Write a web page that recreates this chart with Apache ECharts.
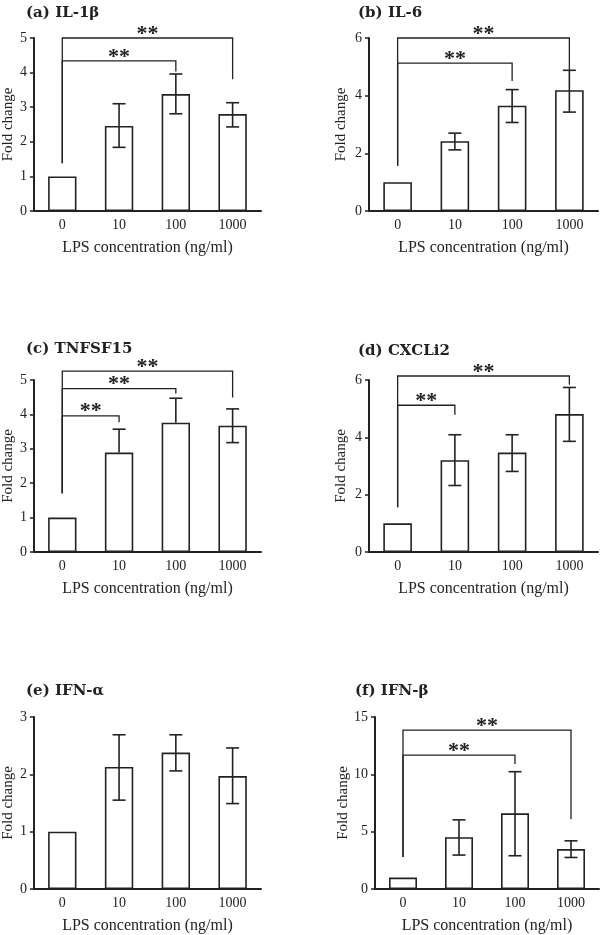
<!DOCTYPE html>
<html><head><meta charset="utf-8">
<script src="https://cdn.jsdelivr.net/npm/echarts@6/dist/echarts.min.js"></script>
<style>html,body{margin:0;padding:0;background:#fff}#c{width:600px;height:935px}</style>
</head><body><div id="c"></div>
<script>
// ---------- data ----------
const categories = ['0', '10', '100', '1000'];
const titles = ['(a) IL-1β', '(b) IL-6', '(c) TNFSF15', '(d) CXCLi2', '(e) IFN-α', '(f) IFN-β'];
const xAxisName = 'LPS concentration (ng/ml)';
const yAxisName = 'Fold change';

const meanA = [1, 2.46, 3.38, 2.80];
const lowA  = [null, 1.84, 2.81, 2.43];
const highA = [null, 3.10, 3.96, 3.13];

const meanB = [1, 2.42, 3.65, 4.19];
const lowB  = [null, 2.12, 3.07, 3.43];
const highB = [null, 2.70, 4.21, 4.88];

const meanC = [1, 2.89, 3.76, 3.67];
const lowC  = [null, null, null, 3.18];
const highC = [null, 3.57, 4.47, 4.16];

const meanD = [1, 3.20, 3.47, 4.81];
const lowD  = [null, 2.32, 2.81, 3.86];
const highD = [null, 4.09, 4.09, 5.74];

const meanE = [1, 2.13, 2.38, 1.97];
const lowE  = [null, 1.55, 2.06, 1.49];
const highE = [null, 2.69, 2.69, 2.46];

const meanF = [1, 4.52, 6.60, 3.48];
const lowF  = [null, 2.96, 2.90, 2.75];
const highF = [null, 6.03, 10.23, 4.20];

// significance brackets: [fromIndex, toIndex, bracketY, leftLegBottom, rightLegBottom]
const bracketsA = [[0, 2, 4.34, 1.38, 4.03], [0, 3, 5.0, 1.38, 3.81]];
const bracketsB = [[0, 2, 5.13, 1.57, 4.51], [0, 3, 6.0, 1.57, 4.87]];
const bracketsC = [[0, 1, 3.96, 1.71, 3.77], [0, 2, 4.75, 1.71, 4.61], [0, 3, 5.26, 1.71, 4.49]];
const bracketsD = [[0, 1, 5.12, 1.56, 4.79], [0, 3, 6.14, 1.56, 5.83]];
const bracketsE = [];
const bracketsF = [[0, 2, 11.68, 2.78, 10.9], [0, 3, 13.86, 2.78, 6.09]];

const yMax = [5, 6, 5, 6, 3, 15];
const yInterval = [1, 2, 1, 2, 1, 5];

// ---------- layout ----------
const panels = [
  {mean: meanA, low: lowA, high: highA, br: bracketsA},
  {mean: meanB, low: lowB, high: highB, br: bracketsB},
  {mean: meanC, low: lowC, high: highC, br: bracketsC},
  {mean: meanD, low: lowD, high: highD, br: bracketsD},
  {mean: meanE, low: lowE, high: highE, br: bracketsE},
  {mean: meanF, low: lowF, high: highF, br: bracketsF}
];
const grids = [
  {left: 32, top: 38, width: 229, height: 173},
  {left: 369, top: 38, width: 229, height: 173},
  {left: 32, top: 380, width: 229, height: 172},
  {left: 369, top: 380, width: 229, height: 172},
  {left: 32, top: 717, width: 229, height: 172},
  {left: 375, top: 717, width: 224, height: 172}
];
const titlePos = [[26, 6], [358, 6], [26, 342], [358, 344], [26, 684], [355, 684]];
const yNameGap = [17, 20, 17, 20, 17, 24];

const INK = '#222';
const SERIF = '"Liberation Serif", "Times New Roman", serif';

const option = {
  animation: false,
  backgroundColor: '#fff',
  grid: grids.map(g => Object.assign({containLabel: false}, g)),
  xAxis: grids.map((g, i) => ({
    type: 'category', gridIndex: i, data: categories,
    axisLine: {lineStyle: {color: INK, width: 2}},
    axisTick: {alignWithLabel: true, length: 4, lineStyle: {color: INK, width: 1.5}},
    axisLabel: {fontFamily: SERIF, fontSize: 14, color: INK, margin: 7},
    splitLine: {show: false},
    name: xAxisName, nameLocation: 'middle', nameGap: 29,
    nameTextStyle: {fontFamily: SERIF, fontSize: 16, color: INK}
  })),
  yAxis: grids.map((g, i) => ({
    type: 'value', gridIndex: i, min: 0, max: yMax[i], interval: yInterval[i],
    axisLine: {show: true, lineStyle: {color: INK, width: 2}},
    axisTick: {show: true, length: 4, lineStyle: {color: INK, width: 1.5}},
    axisLabel: {fontFamily: SERIF, fontSize: 14, color: INK, margin: 7},
    splitLine: {show: false},
    name: yAxisName, nameLocation: 'middle', nameRotate: 90, nameGap: yNameGap[i],
    nameTextStyle: {fontFamily: SERIF, fontSize: 15, color: INK}
  })),
  graphic: titles.map((t, i) => ({
    type: 'text', left: titlePos[i][0], top: titlePos[i][1],
    style: {text: t, font: 'bold 15px "DejaVu Serif"', fill: INK}
  })),
  series: []
};

panels.forEach((p, i) => {
  option.series.push({
    type: 'bar', xAxisIndex: i, yAxisIndex: i, data: p.mean, barWidth: '50%',
    itemStyle: {color: '#fff', borderColor: INK, borderWidth: 1.6},
    z: 2
  });
  const errData = p.mean.map((m, k) => [k, m, p.low[k], p.high[k]]).filter(d => d[3] != null);
  option.series.push({
    type: 'custom', xAxisIndex: i, yAxisIndex: i, data: errData, z: 4, clip: false,
    renderItem: (params, api) => {
      const k = api.value(0), m = api.value(1);
      const lo = errData[params.dataIndex][2], hi = errData[params.dataIndex][3];
      const top = api.coord([k, hi]);
      const bot = api.coord([k, lo == null ? m : lo]);
      const cw = 6.5;
      const ls = {stroke: INK, lineWidth: 1.6, fill: null};
      const children = [
        {type: 'line', shape: {x1: top[0], y1: top[1], x2: bot[0], y2: bot[1]}, style: ls},
        {type: 'line', shape: {x1: top[0] - cw, y1: top[1], x2: top[0] + cw, y2: top[1]}, style: ls}
      ];
      if (lo != null) children.push({type: 'line', shape: {x1: bot[0] - cw, y1: bot[1], x2: bot[0] + cw, y2: bot[1]}, style: ls});
      return {type: 'group', children};
    }
  });
  if (p.br.length) {
    option.series.push({
      type: 'custom', xAxisIndex: i, yAxisIndex: i, data: p.br, z: 5, clip: false,
      renderItem: (params, api) => {
        const d = p.br[params.dataIndex];
        const a = api.coord([d[0], d[3]]), b = api.coord([d[0], d[2]]);
        const c = api.coord([d[1], d[2]]), e = api.coord([d[1], d[4]]);
        return {type: 'group', children: [
          {type: 'polyline', shape: {points: [a, b, c, e]}, style: {stroke: INK, lineWidth: 1.3, fill: null}},
          {type: 'text', x: (b[0] + c[0]) / 2, y: b[1] + 7,
           style: {text: '**', font: 'bold 22px ' + SERIF, fill: INK, textAlign: 'center', textVerticalAlign: 'bottom'}}
        ]};
      }
    });
  }
});

const chart = echarts.init(document.getElementById('c'), null, {renderer: 'canvas'});
chart.setOption(option);
</script>
</body></html>
